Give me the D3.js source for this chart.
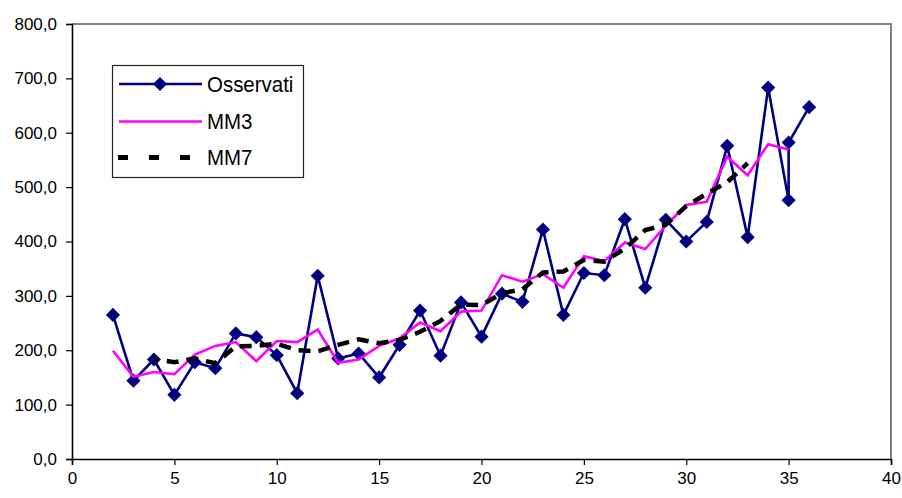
<!DOCTYPE html>
<html>
<head>
<meta charset="utf-8">
<script src="https://cdn.jsdelivr.net/npm/d3@7"></script>
<style>
  html, body { margin: 0; padding: 0; background: #fff; }
  svg { display: block; }
  text { font-family: "Liberation Sans", Arial, sans-serif; fill: #000; }
</style>
</head>
<body>
<svg id="chart" width="902" height="498"></svg>
<script>
// Serie osservata e medie mobili (MM3, MM7)
const obsX = [2,3,4,5,6,7,8,9,10,11,12,13,14,15,16,17,18,19,20,21,22,23,24,25,26,27,28,29,30,31,32,33,34,35,35,36];
const obsY = [265,144,183,118,178,167,231,224,191,121,337,185,194,150,210,273,190,288,225,304,289,422,265,342,338,441,315,440,400,436,576,408,683,476,582,647];

const mm3X = [2,3,4,5,6,7,8,9,10,11,12,13,14,15,16,17,18,19,20,21,22,23,24,25,26,27,28,29,30,31,32,33,34,35];
const mm3Y = [199,151,160,156,192,208,215,180,217,215,238,177,183,208,222,251,235,271,273,338,326,340,315,373,364,398,386,429,467,473,556,522,579,569];

const mm7X = [4,5,6,7,8,9,10,11,12,13,14,15,16,17,18,19,20,21,22,23,24,25,26,27,28,29,30,31,32,33];
const mm7Y = [184,178,185,176,207,208,212,200,198,210,220,213,219,234,254,284,283,305,312,343,345,366,363,387,421,431,465,488,509,544];

const xTicks = [0,5,10,15,20,25,30,35,40];
const yTicks = [0,100,200,300,400,500,600,700,800];
const seriesNames = ["Osservati", "MM3", "MM7"];

const svg = d3.select("#chart");
const plotL = 72, plotR = 891, plotT = 24, plotB = 459;

const x = d3.scaleLinear().domain([0, 40]).range([plotL, plotR]);
const y = d3.scaleLinear().domain([0, 800]).range([plotB, plotT]);

const fmt = v => d3.format(".1f")(v).replace(".", ",");

// plot area frame (top and right edges)
svg.append("path")
  .attr("d", `M${plotL},${plotT}H${plotR}V${plotB}`)
  .attr("fill", "none").attr("stroke", "#808080").attr("stroke-width", 2);

// axes
const yAxis = svg.append("g").attr("transform", `translate(${plotL},0)`)
  .call(d3.axisLeft(y).tickValues(yTicks).tickFormat(fmt).tickSize(6).tickPadding(9));
const xAxis = svg.append("g").attr("transform", `translate(0,${plotB})`)
  .call(d3.axisBottom(x).tickValues(xTicks).tickFormat(d3.format("d")).tickSize(6).tickPadding(7));
[yAxis, xAxis].forEach(g => {
  g.select(".domain").attr("stroke", "#000").attr("stroke-width", 1.6);
  g.selectAll(".tick line").attr("stroke", "#000").attr("stroke-width", 1.2);
  g.selectAll("text").attr("font-size", 17).attr("font-family", "\"Liberation Sans\", Arial, sans-serif");
});

const line = d3.line().x(d => x(d[0])).y(d => y(d[1]));
const obs = d3.zip(obsX, obsY);
const mm3 = d3.zip(mm3X, mm3Y);
const mm7 = d3.zip(mm7X, mm7Y);

const diamond = d3.symbol().type(d3.symbolDiamond2).size(128);

// Osservati
svg.append("path").datum(obs).attr("d", line)
  .attr("fill", "none").attr("stroke", "#000080").attr("stroke-width", 2.6)
  .attr("stroke-linejoin", "miter");
svg.append("g").selectAll("path").data(obs).join("path")
  .attr("d", diamond)
  .attr("transform", d => `translate(${x(d[0])},${y(d[1])})`)
  .attr("fill", "#000080");

// MM3
svg.append("path").datum(mm3).attr("d", line)
  .attr("fill", "none").attr("stroke", "#ff00ff").attr("stroke-width", 2.6);

// MM7
svg.append("path").datum(mm7).attr("d", line)
  .attr("fill", "none").attr("stroke", "#000").attr("stroke-width", 4.5)
  .attr("stroke-dasharray", "12,8").attr("stroke-dashoffset", 7);

// legend
const lg = svg.append("g");
lg.append("rect").attr("x", 112.5).attr("y", 65.5).attr("width", 191).attr("height", 112)
  .attr("fill", "#fff").attr("stroke", "#222").attr("stroke-width", 1.2);
const rowsY = [84, 121.5, 157.5];
lg.append("line").attr("x1", 119).attr("x2", 202).attr("y1", rowsY[0]).attr("y2", rowsY[0])
  .attr("stroke", "#000080").attr("stroke-width", 2.6);
lg.append("path").attr("d", diamond).attr("transform", `translate(160,${rowsY[0]})`).attr("fill", "#000080");
lg.append("line").attr("x1", 119).attr("x2", 202).attr("y1", rowsY[1]).attr("y2", rowsY[1])
  .attr("stroke", "#ff00ff").attr("stroke-width", 2.6);
lg.append("line").attr("x1", 118).attr("x2", 202).attr("y1", rowsY[2]).attr("y2", rowsY[2])
  .attr("stroke", "#000").attr("stroke-width", 5).attr("stroke-dasharray", "10,21");
lg.selectAll("text.lbl").data(seriesNames).join("text")
  .attr("class", "lbl")
  .attr("transform", (d, i) => `translate(207,${rowsY[i]}) scale(0.93,1)`)
  .attr("dy", "0.36em")
  .attr("font-size", 22)
  .text(d => d);
</script>
</body>
</html>
